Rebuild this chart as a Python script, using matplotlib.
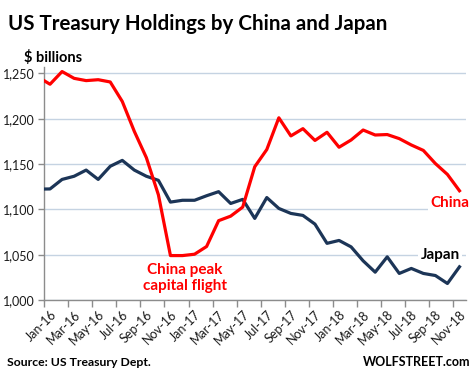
import matplotlib
matplotlib.use("Agg")
import matplotlib.pyplot as plt
import numpy as np

# Data (monthly, Dec-15 .. Nov-18); Dec-15 only partially visible at left edge
months = ["Dec-15",
          "Jan-16", "Feb-16", "Mar-16", "Apr-16", "May-16", "Jun-16", "Jul-16", "Aug-16",
          "Sep-16", "Oct-16", "Nov-16", "Dec-16", "Jan-17", "Feb-17", "Mar-17", "Apr-17",
          "May-17", "Jun-17", "Jul-17", "Aug-17", "Sep-17", "Oct-17", "Nov-17", "Dec-17",
          "Jan-18", "Feb-18", "Mar-18", "Apr-18", "May-18", "Jun-18", "Jul-18", "Aug-18",
          "Sep-18", "Oct-18", "Nov-18"]
china = [1246,
         1238, 1252, 1244.5, 1242, 1243, 1240.5, 1219, 1186,
         1157, 1116, 1049, 1049, 1050.5, 1059, 1087.5, 1092.5,
         1102.5, 1147, 1166, 1201, 1181, 1189, 1176, 1185,
         1168.5, 1176.5, 1187.5, 1182, 1182.5, 1178, 1171, 1165,
         1150.5, 1138.5, 1120.5]
japan = [1122.3,
         1122.5, 1133, 1136.5, 1143.3, 1133, 1147.5, 1154, 1143.3,
         1136.5, 1132, 1108, 1110, 1110, 1115, 1119.5, 1106.5,
         1111, 1090, 1113, 1101, 1095.5, 1093.3, 1083.7, 1062.5,
         1065.7, 1058.6, 1043.2, 1030.7, 1047.6, 1029.3, 1034.8, 1029.3,
         1027, 1018.2, 1036.6]
y_ticks = [1000, 1050, 1100, 1150, 1200, 1250]
y_tick_labels = ["1,000", "1,050", "1,100", "1,150", "1,200", "1,250"]

plt.rcParams['font.family'] = ['Lato', 'DejaVu Sans']

fig = plt.figure(figsize=(4.74, 3.75), dpi=100)
ax = fig.add_axes([44 / 474, 0.2, (465.5 - 44) / 474, 0.8213 - 0.2])

x = np.arange(len(months)) - 1  # Jan-16 at 0
red = "#ff0000"
navy = "#1c3557"
ax.plot(x, japan, color=navy, lw=2.3, solid_joinstyle='round', zorder=3)
ax.plot(x, china, color=red, lw=2.3, solid_joinstyle='round', zorder=4)

ax.set_xlim(-0.5, len(months) - 1.5)
ax.set_ylim(1000, 1257)

# y axis
ax.set_yticks(y_ticks)
ax.set_yticklabels(y_tick_labels, fontsize=9, color="#1a1a1a")
ax.yaxis.grid(True, color="#c5d3e2", lw=1)
ax.set_axisbelow(True)
ax.tick_params(axis='y', length=4, width=1, color="#8c8c8c", pad=3)

# x axis: labels at category centers every 2 months, tick marks at boundaries
lab_idx = list(range(1, len(months), 2))
ax.set_xticks([x[i] for i in lab_idx])
ax.set_xticklabels([months[i] for i in lab_idx], rotation=45, ha='right',
                   va='top', rotation_mode='anchor', fontsize=9, color="#1a1a1a")
ax.tick_params(axis='x', which='major', length=0, pad=6)
ax.set_xticks([x[i] - 0.5 for i in lab_idx], minor=True)
ax.tick_params(axis='x', which='minor', length=5, width=1, color="#8c8c8c")

for s in ['top', 'right']:
    ax.spines[s].set_visible(False)
for s in ['left', 'bottom']:
    ax.spines[s].set_color("#8c8c8c")
    ax.spines[s].set_linewidth(1)

# annotations
bbox = dict(facecolor='white', edgecolor='none', pad=1.5)
ax.text(33.2, 1107, "China", color=red, fontsize=11, fontweight='bold',
        ha='center', va='center', bbox=bbox, zorder=5)
ax.text(32.4, 1050, "Japan", color="black", fontsize=11, fontweight='bold',
        ha='center', va='center', bbox=bbox, zorder=5)
ax.text(11.2, 1024, "China peak\ncapital flight", color=red, fontsize=11,
        fontweight='bold', ha='center', va='center', linespacing=1.15, zorder=5)

fig.text(8 / 474, 1 - 24 / 375, "US Treasury Holdings by China and Japan",
         fontsize=14.8, fontweight='bold', ha='left', va='center')
fig.text(24 / 474, 1 - 57 / 375, "$ billions", fontsize=10.5, fontweight='bold',
         ha='left', va='center')
fig.text(7 / 474, 1 - 363 / 375, "Source: US Treasury Dept.", fontsize=8.8,
         fontweight='bold', ha='left', va='center')
fig.text(470 / 474, 1 - 362 / 375, "WOLFSTREET.com", fontsize=9,
         fontweight='bold', ha='right', va='center')

fig.savefig("out.png", dpi=100)
